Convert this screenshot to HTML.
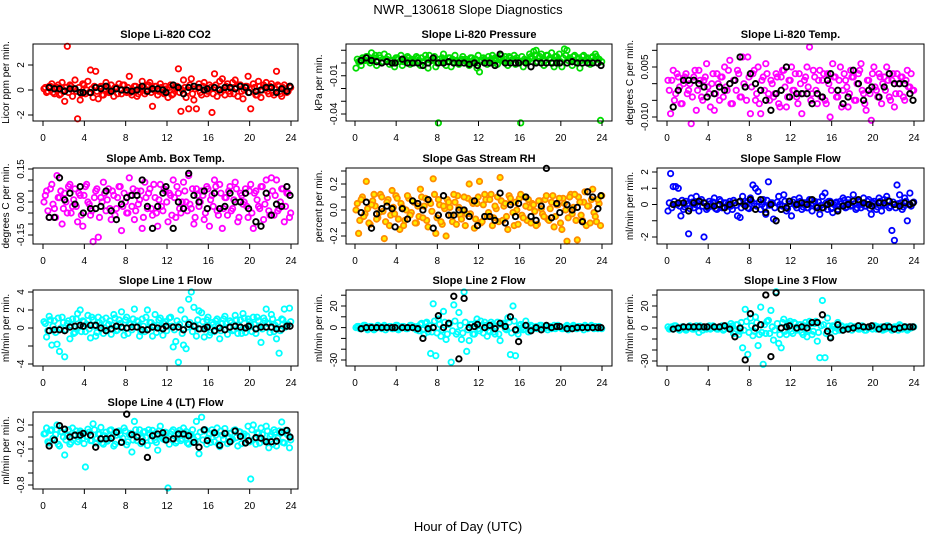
<!DOCTYPE html>
<html><head><meta charset="utf-8"><style>
html,body{margin:0;padding:0;background:#fff;}
svg{display:block;font-family:"Liberation Sans",sans-serif;}
</style></head><body>
<svg id="chart" width="936" height="540" viewBox="0 0 936 540" xmlns="http://www.w3.org/2000/svg">
<text x="468" y="14" text-anchor="middle" font-size="13">NWR_130618  Slope Diagnostics</text>
<text x="468" y="531" text-anchor="middle" font-size="13">Hour of Day (UTC)</text>
</svg>
<script>
const hours=[0.1,0.35,0.6,0.85,1.1,1.35,1.6,1.85,2.1,2.35,2.6,2.85,3.1,3.35,3.6,3.85,4.1,4.35,4.6,4.85,5.1,5.35,5.6,5.85,6.1,6.35,6.6,6.85,7.1,7.35,7.6,7.85,8.1,8.35,8.6,8.85,9.1,9.35,9.6,9.85,10.1,10.35,10.6,10.85,11.1,11.35,11.6,11.85,12.1,12.35,12.6,12.85,13.1,13.35,13.6,13.85,14.1,14.35,14.6,14.85,15.1,15.35,15.6,15.85,16.1,16.35,16.6,16.85,17.1,17.35,17.6,17.85,18.1,18.35,18.6,18.85,19.1,19.35,19.6,19.85,20.1,20.35,20.6,20.85,21.1,21.35,21.6,21.85,22.1,22.35,22.6,22.85,23.1,23.35,23.6,23.85];
const hours2=[0.22,0.47,0.72,0.97,1.22,1.47,1.72,1.97,2.22,2.47,2.72,2.97,3.22,3.47,3.72,3.97,4.22,4.47,4.72,4.97,5.22,5.47,5.72,5.97,6.22,6.47,6.72,6.97,7.22,7.47,7.72,7.97,8.22,8.47,8.72,8.97,9.22,9.47,9.72,9.97,10.22,10.47,10.72,10.97,11.22,11.47,11.72,11.97,12.22,12.47,12.72,12.97,13.22,13.47,13.72,13.97,14.22,14.47,14.72,14.97,15.22,15.47,15.72,15.97,16.22,16.47,16.72,16.97,17.22,17.47,17.72,17.97,18.22,18.47,18.72,18.97,19.22,19.47,19.72,19.97,20.22,20.47,20.72,20.97,21.22,21.47,21.72,21.97,22.22,22.47,22.72,22.97,23.22,23.47,23.72,23.97];
const blackHours=[0.6,1.1,1.6,2.1,2.6,3.1,3.6,3.9,4.6,5.1,5.6,6.1,6.6,7.1,7.6,8.1,8.6,9.1,9.6,10.1,10.6,11.1,11.6,11.9,12.6,13.1,13.6,14.1,14.6,15.1,15.6,15.9,16.6,17.1,17.6,18.1,18.6,19.1,19.6,19.9,20.6,21.1,21.6,22.1,22.6,23.1,23.6,23.9];
const xTicks=[0,4,8,12,16,20,24];

const co2Vals=[0.1,-0.2,0.3,0.5,-0.3,0.2,-0.4,0.6,-0.9,3.5,0.4,-0.5,0.8,-2.3,-0.8,0.5,-0.3,0.7,1.6,-0.6,1.5,-0.7,0.3,-0.4,0.6,-0.2,0.4,-0.5,0.2,0.5,-0.3,0.4,-0.2,1.1,-0.4,0.3,-0.5,0.2,0.7,-0.3,0.4,0.6,-1.3,0.3,-0.4,0.5,-0.2,0.3,-0.6,0.4,-0.3,0.2,1.7,-1.7,0.8,-0.6,-1.5,0.9,-0.8,-1.5,0.5,-0.4,0.6,-0.3,0.4,-1.8,1.3,-0.5,0.7,0.9,-0.4,0.5,-0.3,0.6,0.8,-0.5,0.4,-0.7,0.3,1.1,-1.5,0.5,-0.4,0.7,-0.6,0.4,0.6,-0.3,0.5,-0.4,1.5,0.3,-0.5,0.4,-0.2,0.3];
const co2Core=[.2,-.1,.3,-.2,.1,.4,-.3,0,.2,-.2,.3,.1,-.1,.2,-.3,.4,0,-.2,.1,.3,-.1,.2,-.4,.1,.3,-.2,0,.2,-.3,.1,.4,-.1,.2,-.2,0,.3,-.3,.1,.2,-.1,.4,-.2,0,.3,-.1,.2,-.3,.1,.2,-.4,.1,.3,-.2,0,.2,-.1,.4,-.3,.1,.2,-.2,.3,0,-.1,.2,-.3,.4,.1,-.2,0,.3,-.1,.1,-.3,.2,.4,-.1,0,.3,-.2,.1,.2,-.4,.3,0,.2,-.1,.3,-.2,.1,.4,-.3,.2,0,-.1,.2];
const co2Black=[0.2,0.1,0.1,-0.1,0.1,0.1,-0.2,-0.2,-0.2,0.2,0.1,0.3,-0.1,0.1,0,0,-0.1,0,0.3,-0.1,0.1,0.1,0,-0.2,0.4,0.2,-0.3,0.2,0.3,0.2,0,0.1,0.2,0,0.2,0.2,0.1,0.3,0.2,-0.2,-0.1,0,0.2,0.2,-0.2,0.1,-0.1,0.3];
const co2Ticks=[-2,0,2];

const presVals=[-.004,.001,-.002,.003,.005,.002,.008,.004,-.002,.006,.001,.007,.003,-.001,.002,-.003,.004,.001,-.002,.003,.005,-.001,.002,.003,.004,-.002,.001,.006,-.004,.002,.003,-.003,-.047,.001,.007,-.002,.004,-.003,.001,.002,-.001,.003,.002,.001,-.002,.004,.001,-.004,-.007,.002,.003,-.001,.002,.006,.004,-.001,.003,.002,.005,-.002,.004,.003,-.001,.002,-.047,-.003,.001,.002,.005,.009,.010,.004,.007,-.002,.006,.003,.008,-.003,.005,.007,-.003,.011,.010,.004,-.002,.006,.003,-.004,.005,.002,.004,-.001,.005,.007,.003,-.045];
const presCore=[.003,.001,.004,.002,.005,0,.003,.006,.002,.004,.001,.003,.005,.002,0,.004,.003,.006,.001,.002,.004,.003,0,.005,.002,.004,.001,.003,.006,.002,.005,0,.003,.004,.002,.001,.004,.003,.006,.001,.002,.005,.003,0,.004,.002,.003,.006,.001,.004,.002,.005,.003,0,.002,.004,.006,.001,.003,.005,.002,.006,.004,.001,.005,.003,.002,.007,.004,.006,.001,.005,.003,.002,.006,.004,0,.005,.003,.001,.004,.006,.002,.003,.005,.001,.004,.002,.006,.003,0,.004,.002,.005,.003,.001];
const presBlack=[.002,.004,.002,.001,0,.001,0,0,.003,0,0,0,-.002,0,.004,0,0,.001,0,0,0,-.001,0,-.002,0,0,-.002,.007,0,0,0,0,0,-.003,0,0,0,0,0,0,0,.001,0,0,0,0,0,-.002];
const presTicks=[0.01,0,-0.01,-0.02,-0.03,-0.04];

const tempVals=[.001,-.009,.004,-.003,.002,-.006,0,.003,-.002,-.012,.002,-.008,.004,-.004,.001,.006,-.003,0,-.008,.003,-.005,.002,.005,-.002,.007,-.006,.001,.004,-.004,.008,-.001,.008,-.009,.003,-.005,.005,-.009,.002,.006,-.003,.001,-.004,.003,-.006,.002,.004,-.007,.001,.005,-.002,-.004,.003,-.009,.001,.005,.011,-.003,.002,-.006,.004,.001,-.005,.003,-.010,.006,.002,-.004,.005,-.002,.001,-.007,.004,.002,-.005,.003,.006,-.003,-.008,.001,-.011,.005,-.002,.003,-.006,.002,.005,-.004,.001,-.007,.003,-.003,.002,-.005,.004,-.001,-.002];
const tempCore=[-.002,.001,-.005,.003,-.001,-.006,.002,-.003,0,-.004,.004,-.002,.001,-.005,.002,-.001,-.007,.003,-.003,0,.002,-.004,-.001,.004,-.006,.001,-.002,.003,-.004,0,-.005,.002,-.001,.004,-.003,-.006,.001,-.002,.003,-.005,0,-.003,.002,-.007,.004,-.001,-.004,.001,-.002,.003,-.006,0,-.003,.002,-.001,-.005,.004,-.002,.001,-.004,.003,-.006,0,-.002,.002,-.004,.001,-.007,.003,-.001,-.003,.002,-.005,0,.004,-.002,-.006,.001,-.003,.003,-.001,-.004,.002,0,-.002,.001,-.005,.003,-.003,0,.002,-.004,.001,-.001,.003,-.002];
const tempBlack=[-.007,-.002,.001,.001,.001,0,-.001,-.004,-.003,-.001,-.002,0,.001,.008,-.001,.003,0,-.002,-.005,-.008,-.003,-.002,.005,-.004,-.003,-.003,-.003,-.006,-.003,-.004,.001,.003,-.002,-.006,-.004,.004,0,-.005,-.002,-.001,-.004,-.001,.003,0,0,0,-.003,-.005];
const tempTicks=[0.01,0.005,0,-0.005,-0.01];

const ambVals=[0,.05,-.07,.08,-.03,.12,.02,-.10,.04,-.05,.08,-.02,.06,-.09,.03,-.11,.07,0,-.06,-.18,.05,-.16,.02,.09,-.04,.06,-.08,.03,-.03,.07,-.13,.04,-.05,.11,-.02,-.08,.05,.01,-.12,.09,-.03,.06,-.06,.02,-.11,.08,-.04,.05,-.09,.03,.10,-.07,.04,-.05,.09,0,.12,-.03,-.10,.06,-.02,.05,-.08,.07,-.11,.03,.10,-.04,.08,-.12,.02,-.06,.07,-.03,.09,-.09,.04,-.01,.06,-.07,.08,-.12,.05,-.02,.07,-.08,.10,-.04,.11,-.06,.10,-.03,.06,-.09,.04,-.07];
const ambCore=[.03,-.04,.06,-.01,-.07,.02,.05,-.03,0,.07,-.05,.01,-.02,.04,-.06,.03,.08,-.01,-.04,.02,.06,-.07,0,.04,.01,-.03,.05,-.06,.02,.07,-.02,0,-.05,.03,.06,-.04,-.01,.05,-.07,.02,.04,-.03,.08,-.05,.01,-.02,.06,0,.04,-.06,.02,.07,-.03,0,.05,-.04,-.01,.06,-.07,.03,0,.03,-.05,.06,.01,-.02,.07,-.06,.04,-.03,.02,.05,-.04,.01,.06,-.07,.03,0,-.02,.05,-.05,.04,.01,-.03,.07,-.01,.02,-.06,.05,.03,-.04,0,.06,-.02,.04,-.05];
const ambBlack=[-.07,-.07,.11,.01,.04,-.01,.07,-.05,-.03,-.03,-.02,.05,-.04,-.08,-.01,.02,.03,.03,.10,-.02,-.12,-.02,.04,.07,-.12,0,-.03,.13,.03,0,.05,-.03,.04,-.03,-.02,.04,0,0,.04,-.03,-.09,-.11,.04,-.06,-.01,-.02,.07,.03];
const ambTicks=[0.15,0.1,0.05,0,-0.05,-0.1,-0.15];

const rhVals=[0,-.18,.08,-.05,.22,-.10,.04,.12,-.07,-.02,.10,-.22,.06,-.12,.15,-.03,.09,-.15,.02,-.08,.11,-.04,.07,-.10,.03,.16,-.06,.09,-.13,.05,.24,-.18,.08,-.09,.03,-.20,.06,-.04,.12,-.11,.02,-.07,.10,-.03,.20,.07,-.14,.05,.22,-.09,.12,-.05,.08,-.12,.03,.10,.25,-.08,.05,-.15,.09,-.02,.06,-.11,.12,-.06,.03,.08,-.10,.04,-.12,.07,.01,-.05,.11,-.08,.06,-.13,.04,.09,-.15,.05,-.24,.10,-.03,.12,-.23,.06,-.08,.14,.03,-.10,.16,-.05,.08,-.12];
const rhCore=[.05,-.08,.10,-.03,.01,-.11,.07,.03,-.06,.12,-.01,-.09,.08,-.04,.02,.11,-.07,.05,-.12,0,.09,-.02,.06,-.10,-.05,.10,.03,-.08,.07,-.01,.12,-.06,.04,-.11,.01,.08,.02,-.09,.06,.11,-.04,0,-.12,.09,-.03,.05,-.07,.10,-.10,.04,.08,-.02,.12,-.06,.01,-.09,.07,.03,-.05,.11,.06,-.12,0,.09,-.04,.10,-.08,.02,.05,-.01,-.11,.07,-.03,.08,-.07,.01,.11,-.05,.04,-.10,.09,0,-.06,.12,.02,-.08,.10,-.04,.06,-.12,.03,.08,-.02,-.09,.05,.11];
const rhBlack=[-.02,.06,-.14,-.03,.01,.03,.01,-.13,.01,-.07,.07,.05,0,.08,-.14,-.04,.11,-.04,-.04,0,0,-.05,.07,-.12,-.05,-.05,-.08,.13,-.10,.04,-.05,.05,.10,-.05,-.08,.03,.32,-.06,.05,-.02,.04,0,.02,-.09,.14,.10,.01,.11];
const rhTicks=[0.3,0.2,0.1,0,-0.1,-0.2];

const flowVals=[-.4,1.9,1.1,1.1,1.0,-.7,-.3,.2,-1.8,.4,-.2,.5,-.4,.3,-2.0,-.3,.2,-.1,.4,-.3,.3,-.2,.1,-.4,.2,-.3,.1,-.7,-.8,.5,.2,-.2,.4,1.2,1.0,.8,-.3,.3,-.6,1.4,.1,-.9,-1.0,.5,-.3,.6,-.4,.2,-.7,.3,-.2,.4,-.3,.1,-.2,.3,-.4,.2,-.1,-.6,.5,.7,-.3,.2,-.5,.1,-.3,.2,.4,-.2,.3,-.1,.6,-.3,.2,-.2,.4,-.1,.3,-.6,.2,-.3,.4,-.4,.3,.5,-.2,-1.6,-2.2,1.2,.6,-.3,.4,-1.0,.7,.1];
const flowCore=[.1,-.2,.2,0,-.1,.25,-.15,.05,-.25,.15,0,-.05,.2,-.1,.1,-.2,.05,.15,-.25,0,.2,-.15,.1,.05,-.1,.25,-.05,.15,-.2,0,.1,-.25,.2,.05,-.1,.15,0,-.15,.25,-.05,.1,-.2,.15,0,-.1,.2,-.25,.05,.15,-.05,0,.2,-.15,.1,-.2,.25,.05,-.1,.15,-.05,-.2,.1,.2,-.25,0,.15,-.1,.05,.25,-.15,.1,-.05,.05,-.2,.15,0,-.1,.2,-.25,.1,.05,-.15,.2,0,-.05,.25,-.1,.15,-.2,.05,.1,-.15,.2,0,-.1,.15];
const flowBlack=[0,.1,.1,-.4,.1,.2,.1,-.1,-.1,0,-.2,0,.1,.2,-.1,.3,-.3,.3,-.5,0,-1.0,-.3,-.2,.2,0,.1,0,.3,-.2,-.2,0,.1,-.4,-.1,0,.2,.3,.1,0,-.1,.1,.1,.2,0,-.1,.1,0,.1];
const flowTicks=[2,1,0,-1,-2];

const line1Vals=[.7,-1,1.3,-1.9,.8,-1.8,-2.6,1.2,-3.2,.5,-1.2,1.0,-.5,1.6,2.0,.8,-.4,1.4,-1.1,.9,-.9,1.2,.3,-.6,1.1,.4,-.7,1.5,-.3,.9,1.8,-.8,1.2,.5,-.2,2.1,.8,-.9,1.0,-.4,2.0,.6,-.9,1.5,.3,1.1,-.8,.7,.2,1.2,-2.1,-1.5,-3.8,2.0,-1.9,-2.3,3.2,4.0,2.3,-.9,1.9,1.7,-1.0,.9,-.8,.6,-.4,1.0,-1.2,.5,1.3,-.7,.8,-.3,1.4,-.6,.9,1.6,-.5,1.0,.3,1.2,-.6,.8,-1.6,1.1,2.1,.5,1.5,-.4,-1.2,-2.8,1.0,2.1,.4,2.2];
const line1Core=[.5,-.3,.9,.2,-.5,1.1,0,.6,-.2,.8,.3,-.6,1.0,.1,-.4,.7,.4,-.1,1.2,.2,-.5,.6,.9,0,-.3,.8,.3,1.1,-.2,.5,0,.9,-.6,.4,1.0,.1,.7,-.4,.2,1.2,-.1,.6,.3,-.5,.9,0,.5,-.3,1.1,.2,-.2,.8,.4,-.6,1.0,.1,.6,-.4,.3,.9,-.1,.7,0,1.2,-.5,.4,.8,.2,-.3,1.0,.5,.1,.6,-.2,.9,.3,-.6,1.1,0,.7,-.4,.4,1.2,.2,-.1,.8,.5,-.5,1.0,.3,.6,-.3,.9,.1,.4,.7];
const line1Black=[-.3,-.2,-.2,-.3,.1,.2,.3,.2,.3,.3,0,-.3,-.1,.2,.1,0,.1,.1,-.2,-.2,.1,0,-.1,.2,.1,.1,-.2,.4,.2,-.1,-.1,.1,-.3,0,-.2,.1,.2,.1,0,.2,-.1,.1,.1,.1,-.1,-.1,.2,.2];
const line1Ticks=[4,2,0,-2,-4];

const line2Vals=[0,1,-1,2,0,-1,1,-2,0,1,-1,2,0,1,-1,0,2,-1,1,0,-1,2,0,-1,1,3,-2,4,-4,-24,22,-26,8,-8,15,-11,3,-32,21,-6,14,-11,33,-22,-12,3,-6,8,-3,2,5,-8,-4,3,-6,5,-12,4,-1,9,-25,20,-26,-6,3,-2,6,-4,2,-1,1,0,2,-1,1,0,-1,2,0,1,-1,0,2,-1,1,0,-1,1,0,2,-1,1,0,1,-1,0];
const line2Core=[1,-1,0,2,-2,1,0,-1,2,0,1,-2,0,1,-1,2,-2,0,1,-1,0,2,1,-2,-3,4,-6,5,2,-4,6,-5,3,-2,5,-6,4,-3,6,-4,2,-5,5,-2,3,-6,4,-1,6,-5,2,-3,5,-4,1,-6,3,4,-2,5,-5,6,-3,2,0,-1,2,-2,1,0,-1,2,0,1,-2,1,0,-1,2,0,-1,1,-2,0,2,-1,1,0,-2,1,0,2,-1,0,1,-1];
const line2Black=[-1,0,0,0,0,0,0,0,0,0,0,-1,-10,-1,0,11,0,4,29,-29,27,0,1,3,0,2,-1,4,1,10,-2,-13,2,-3,0,-2,2,0,1,1,-1,-1,0,0,0,0,0,0];
const line2Ticks=[30,20,10,0,-10,-20,-30];

const line3Vals=[1,0,-1,2,-1,0,1,-2,1,0,-1,2,-4,1,0,-1,2,0,1,-1,0,2,-1,0,1,2,-3,3,-3,-18,17,-24,9,-7,10,-16,19,-33,-5,7,16,-11,33,-14,-18,8,-6,4,-3,5,-2,3,-4,2,-8,6,-6,4,-12,-27,25,-27,9,-8,2,-3,5,-2,1,0,-1,2,0,1,-1,0,1,-2,0,1,2,-1,0,1,-1,2,0,-2,1,0,3,-1,1,-2,0,1];
const line3Core=[-1,1,2,0,-2,1,-1,0,2,-1,1,0,2,-2,0,1,-1,2,0,-1,1,-2,2,0,4,-5,3,-6,5,-2,6,-4,2,-3,5,-6,-4,3,6,-5,1,-2,4,-6,5,-3,2,6,-5,4,-1,3,-6,5,-2,4,-3,6,-4,2,3,-5,2,-1,1,0,-2,2,-1,1,0,-2,1,0,-1,2,-2,0,1,-1,2,1,0,-2,-1,2,0,-1,1,-2,2,0,1,-1,0,1];
const line3Black=[-1,0,1,1,1,1,1,1,1,1,2,-1,-8,0,-29,13,0,3,30,-26,32,0,1,2,0,1,0,5,5,12,-3,-9,3,-2,-1,0,2,1,1,2,-1,1,1,-1,0,1,1,1];
const line3Ticks=[30,20,10,0,-10,-20,-30];

const line4Vals=[.05,.15,-.10,.12,-.05,.20,-.15,.08,-.30,.02,-.12,.15,.04,-.08,.10,-.02,-.50,.13,-.06,.22,-.10,.05,.16,-.12,.08,-.04,.12,-.15,.03,.10,-.08,.15,-.13,.04,-.25,.26,-.06,.12,-.02,.09,-.14,.06,.11,-.05,-.22,.18,-.03,.08,-.85,.05,.12,-.10,.07,-.06,.15,.09,-.12,.04,-.04,.26,-.28,.33,.10,-.12,.05,.12,-.08,.15,-.16,.03,.14,-.11,.06,-.04,.12,-.15,.08,.02,-.10,.18,-.70,.20,-.12,.06,.15,-.06,.18,-.18,.04,.12,-.15,.10,.25,-.10,.05,-.18];
const line4Core=[.06,-.08,.11,-.02,.04,-.12,.09,0,-.05,.12,-.09,.03,.10,-.04,.07,-.11,.01,.08,-.06,.12,-.03,.05,-.10,.02,-.07,.11,0,-.12,.09,.04,-.02,.10,-.08,.06,-.05,.12,.03,-.11,.08,-.01,.12,-.06,.05,-.09,.10,0,-.04,.07,-.12,.09,.02,-.07,.11,-.03,.06,-.10,.04,.12,-.08,.01,.08,-.05,.12,-.02,-.09,.07,.03,-.12,.10,-.04,.06,0,-.06,.11,-.01,.09,-.11,.05,.02,-.08,.12,-.03,.07,-.10,.04,-.07,.10,.01,-.12,.08,-.02,.06,-.09,.11,.03,-.05];
const line4Black=[-.15,-.05,.19,.13,0,.03,.03,.06,.03,-.17,-.03,-.03,-.02,.08,-.09,.38,.04,0,-.08,-.34,.02,.05,.07,-.05,-.03,.05,.05,.02,-.09,-.17,.12,-.06,.07,-.14,.06,-.08,.10,.01,-.10,-.06,-.01,-.02,-.08,-.08,-.07,.08,.11,0];
const line4Ticks=[0.2,0,-0.2,-0.4,-0.6,-0.8];

const NS="http://www.w3.org/2000/svg";
const svg=document.getElementById('chart');
const cols=[{l:33,r:298,x0:43,x24:291},{l:346,r:612,x0:355,x24:602},{l:657,r:924,x0:667,x24:914}];
const rows=[{t:44,b:121},{t:168,b:244},{t:290,b:366},{t:412,b:489}];
function mk(tag,attrs,parent){const e=document.createElementNS(NS,tag);for(const k in attrs)e.setAttribute(k,attrs[k]);(parent||svg).appendChild(e);return e;}

const panels=[
 {name:'co2',title:'Slope Li-820 CO2',ylab:'Licor ppm per min.',c:0,r:0,vals:co2Vals,core:co2Core,blk:co2Black,ticks:co2Ticks,labels:{'-2':'-2','0':'0','2':'2'},ref:[2,65,-2,115],stroke:'#ff0000',fill:'none'},
 {name:'pressure',title:'Slope Li-820 Pressure',ylab:'kPa per min.',c:1,r:0,vals:presVals,core:presCore,blk:presBlack,ticks:presTicks,labels:{'-0.01':'-0.01','-0.04':'-0.04'},ref:[0,63,-0.04,114],stroke:'#00dd00',fill:'none'},
 {name:'temp',title:'Slope Li-820 Temp.',ylab:'degrees C per min.',c:2,r:0,vals:tempVals,core:tempCore,blk:tempBlack,ticks:tempTicks,labels:{'0.005':'0.005','-0.01':'-0.010'},ref:[0.005,67,-0.01,117],stroke:'#ff00ff',fill:'none'},
 {name:'amb-box-temp',title:'Slope Amb. Box Temp.',ylab:'degrees C per min.',c:0,r:1,vals:ambVals,core:ambCore,blk:ambBlack,ticks:ambTicks,labels:{'0.15':'0.15','0':'0.00','-0.15':'-0.15'},ref:[0.15,169,-0.15,235],stroke:'#ff00ff',fill:'none'},
 {name:'gas-stream-rh',title:'Slope Gas Stream RH',ylab:'percent per min.',c:1,r:1,vals:rhVals,core:rhCore,blk:rhBlack,ticks:rhTicks,labels:{'0.2':'0.2','0':'0.0','-0.2':'-0.2'},ref:[0.2,184,-0.2,236],stroke:'#ff8c00',fill:'#ffee00'},
 {name:'sample-flow',title:'Slope Sample Flow',ylab:'ml/min per min.',c:2,r:1,vals:flowVals,core:flowCore,blk:flowBlack,ticks:flowTicks,labels:{'2':'2','1':'1','0':'0','-2':'-2'},ref:[2,172,-2,237],stroke:'#0000ff',fill:'none'},
 {name:'line1-flow',title:'Slope Line 1 Flow',ylab:'ml/min per min.',c:0,r:2,vals:line1Vals,core:line1Core,blk:line1Black,ticks:line1Ticks,labels:{'4':'4','2':'2','0':'0','-4':'-4'},ref:[4,292,-4,364],stroke:'#00ffff',fill:'none'},
 {name:'line2-flow',title:'Slope Line 2 Flow',ylab:'ml/min per min.',c:1,r:2,vals:line2Vals,core:line2Core,blk:line2Black,ticks:line2Ticks,labels:{'20':'20','0':'0','-30':'-30'},ref:[20,306,-30,360],stroke:'#00ffff',fill:'none'},
 {name:'line3-flow',title:'Slope Line 3 Flow',ylab:'ml/min per min.',c:2,r:2,vals:line3Vals,core:line3Core,blk:line3Black,ticks:line3Ticks,labels:{'20':'20','0':'0','-30':'-30'},ref:[20,306,-30,361],stroke:'#00ffff',fill:'none'},
 {name:'line4-flow',title:'Slope Line 4 (LT) Flow',ylab:'ml/min per min.',c:0,r:3,vals:line4Vals,core:line4Core,blk:line4Black,ticks:line4Ticks,labels:{'0.2':'0.2','-0.2':'-0.2','-0.8':'-0.8'},ref:[0.2,425,-0.8,485],stroke:'#00ffff',fill:'none'}
];

panels.forEach(p=>{
  const C=cols[p.c],R=rows[p.r];
  const xs=h=>C.x0+h*(C.x24-C.x0)/24;
  const ys=v=>p.ref[1]+(v-p.ref[0])*(p.ref[3]-p.ref[1])/(p.ref[2]-p.ref[0]);
  const g=mk('g',{});
  
  
  const t=mk('text',{x:(C.l+C.r)/2,y:R.t-6,'text-anchor':'middle','font-size':'11','font-weight':'bold'},g);
  t.textContent=p.title;
  
  
  const yl=mk('text',{x:0,y:0,'text-anchor':'middle','font-size':'10',transform:`translate(${C.l-24},${(R.t+R.b)/2}) rotate(-90)`},g);
  yl.textContent=p.ylab;
  
  
  const pts=mk('g',{stroke:p.stroke,fill:p.fill,'stroke-width':'1.8'},g);
  
  
  const n2=Math.min(hours2.length,p.core.length);
  for(let i=0;i<n2;i++){
    const c=mk('circle',{cx:xs(hours2[i]).toFixed(1),cy:ys(p.core[i]).toFixed(1),r:'2.7'},pts);
    
    
  }
  const n=Math.min(hours.length,p.vals.length);
  for(let i=0;i<n;i++){
    const c=mk('circle',{cx:xs(hours[i]).toFixed(1),cy:ys(p.vals[i]).toFixed(1),r:'2.7'},pts);
    
    
  }
  const bpts=mk('g',{stroke:'#000',fill:'none','stroke-width':'1.9'},g);
  
  
  const m=Math.min(blackHours.length,p.blk.length);
  for(let i=0;i<m;i++){
    const c=mk('circle',{cx:xs(blackHours[i]).toFixed(1),cy:ys(p.blk[i]).toFixed(1),r:'2.7'},bpts);
    
    
  }
  const box=mk('rect',{x:C.l,y:R.t,width:C.r-C.l,height:R.b-R.t,fill:'none',stroke:'#000','stroke-width':'1'},g);
  
  
  const xa=mk('g',{},g);
  
  
  mk('line',{x1:xs(0),x2:xs(24),y1:R.b,y2:R.b,stroke:'#000'},xa);
  xTicks.forEach(v=>{
    mk('line',{x1:xs(v),x2:xs(v),y1:R.b,y2:R.b+5,stroke:'#000'},xa);
    const tl=mk('text',{x:xs(v),y:R.b+20,'text-anchor':'middle','font-size':'10'},xa);
    tl.textContent=v;
    
    
  });
  const ya=mk('g',{},g);
  
  
  const yt=p.ticks.map(ys);
  mk('line',{x1:C.l,x2:C.l,y1:Math.min(...yt),y2:Math.max(...yt),stroke:'#000'},ya);
  p.ticks.forEach(v=>{
    mk('line',{x1:C.l-5,x2:C.l,y1:ys(v),y2:ys(v),stroke:'#000'},ya);
    const key=String(v);
    if(p.labels[key]!==undefined){
      const tl=mk('text',{x:0,y:0,'text-anchor':'middle','font-size':'10',transform:`translate(${C.l-9},${ys(v)}) rotate(-90)`},ya);
      tl.textContent=p.labels[key];
      
      
    }
  });
});
</script>
</body></html>
